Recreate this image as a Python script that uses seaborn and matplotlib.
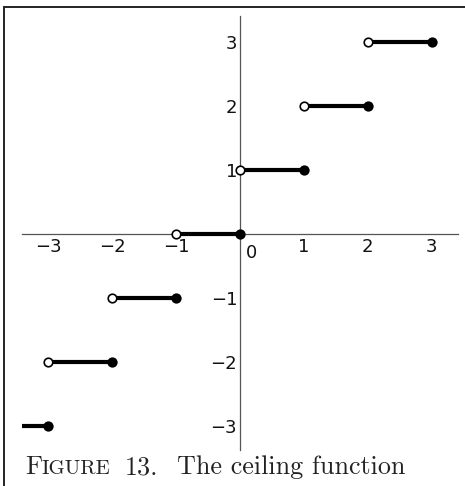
import numpy as np
import pandas as pd
import matplotlib
matplotlib.use("Agg")
import matplotlib.pyplot as plt
import seaborn as sns
from matplotlib.patches import Rectangle

# ceiling function: on (n-1, n] the value is n
levels = [-3, -2, -1, 0, 1, 2, 3]
left_ends = [-4, -3, -2, -1, 0, 1, 2]
right_ends = [-3, -2, -1, 0, 1, 2, 3]
x_ticks = [-3, -2, -1, 1, 2, 3]
y_ticks = [-3, -2, -1, 1, 2, 3]

seg_df = pd.DataFrame({
    "x": left_ends + right_ends,
    "y": levels + levels,
    "step": list(range(len(levels))) * 2,
})
closed_df = pd.DataFrame({"x": right_ends, "y": levels})
open_df = pd.DataFrame({"x": left_ends, "y": levels})

sns.set_style("white")
plt.rcParams["font.family"] = ["DejaVu Sans"]

W, H = 465, 486
fig = plt.figure(figsize=(W / 100, H / 100), dpi=100)
ax = fig.add_axes([22 / W, 36 / H, 436 / W, 434 / H])
ax.set_facecolor("none")

sns.lineplot(data=seg_df, x="x", y="y", units="step", estimator=None,
             color="black", linewidth=3.0, ax=ax, zorder=3)
sns.scatterplot(data=closed_df, x="x", y="y", color="black", s=55,
                edgecolor="black", linewidth=0, ax=ax, zorder=4)
sns.scatterplot(data=open_df, x="x", y="y", color="white", s=38,
                edgecolor="black", linewidth=1.2, ax=ax, zorder=5)

ax.set_xlim(-3.41, 3.41)
ax.set_ylim(-3.375, 3.41)
ax.set_xlabel("")
ax.set_ylabel("")

axis_color = "#555555"
for side in ["top", "right"]:
    ax.spines[side].set_visible(False)
for side in ["left", "bottom"]:
    ax.spines[side].set_position(("data", 0))
    ax.spines[side].set_color(axis_color)
    ax.spines[side].set_linewidth(0.9)

ax.set_xticks(x_ticks)
ax.set_yticks(y_ticks)
ax.set_xticklabels([f"\u2212{abs(v)}" if v < 0 else str(v) for v in x_ticks])
ax.set_yticklabels([f"\u2212{abs(v)}" if v < 0 else str(v) for v in y_ticks])
ax.tick_params(axis="both", direction="in", length=3, width=0.8,
               color=axis_color, labelsize=13, labelcolor="#111111")
ax.tick_params(axis="x", pad=3)
ax.tick_params(axis="y", pad=2)

ax.annotate("0", xy=(0, 0), xytext=(8, -7), textcoords="offset points",
            fontsize=13, ha="center", va="top", color="#111111")

# border of the figure box (only top and left edges are visible)
fig.patches.append(Rectangle((4 / W, -0.05), 1.1, (479 / H) + 0.05,
                             transform=fig.transFigure, fill=False,
                             edgecolor="#222222", linewidth=1.4))

# caption with faked small caps
cap_y = 12 / H
serif = ["cmr10", "DejaVu Serif"]
t1 = fig.text(25 / W, cap_y, "F", fontsize=18.8, family=serif,
              color="#222222", va="baseline")
fig.text(125 / W, cap_y, "13.", fontsize=18.8, family=serif,
         color="#222222", va="baseline")
fig.text(177 / W, cap_y, "The ceiling function", fontsize=18.8,
         family=serif, color="#222222", va="baseline")
fig.canvas.draw()
bb = t1.get_window_extent()
fig.text(bb.x1 / W, cap_y, "IGURE", fontsize=15, family=serif,
         color="#222222", va="baseline")

fig.savefig("out.png", dpi=100)
